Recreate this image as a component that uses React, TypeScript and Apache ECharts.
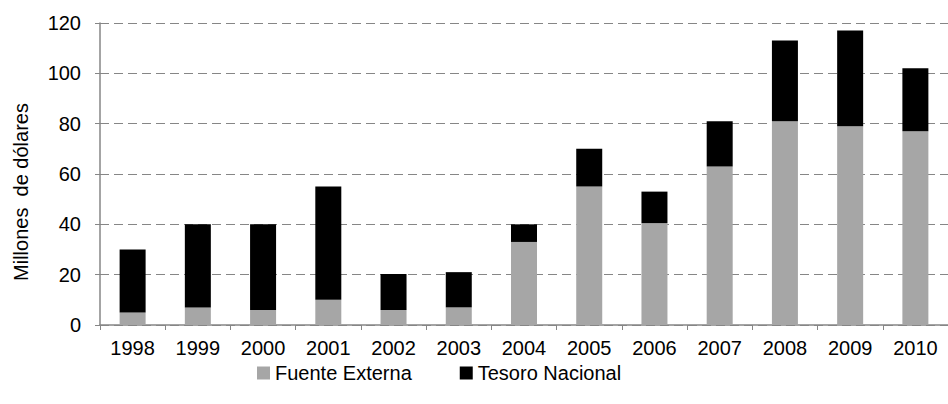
import React, { useEffect, useRef } from "react";
import * as echarts from "echarts";

// Financing by source, 1998–2010 (millions of dollars)
const years = ["1998", "1999", "2000", "2001", "2002", "2003", "2004", "2005", "2006", "2007", "2008", "2009", "2010"];
const fuenteExterna = [5, 7, 6, 10, 6, 7, 33, 55, 40.5, 63, 81, 79, 77];
const tesoroNacional = [25, 33, 34, 45, 14.3, 14, 7, 15, 12.5, 18, 32, 38, 25];
const seriesNames = ["Fuente Externa", "Tesoro Nacional"];
const yTitle = "Millones  de dólares";

const FONT = "'Liberation Sans', Arial, sans-serif";
const AXIS_GREY = "#868686";

export default function App() {
  const ref = useRef<HTMLDivElement>(null);

  useEffect(() => {
    if (!ref.current) return;
    const chart = echarts.init(ref.current, null, { renderer: "svg" });
    chart.setOption({
      animation: false,
      backgroundColor: "#ffffff",
      textStyle: { fontFamily: FONT },
      grid: { left: 100, top: 23, width: 858, height: 302, containLabel: false },
      legend: {
        left: 257,
        top: 363,
        itemWidth: 13,
        itemHeight: 13,
        itemGap: 48,
        icon: "rect",
        padding: 0,
        textStyle: { fontFamily: FONT, fontSize: 20, color: "#000" },
        data: seriesNames,
      },
      graphic: [
        {
          type: "text",
          x: 21,
          y: 192,
          rotation: Math.PI / 2,
          style: {
            text: yTitle,
            fontFamily: FONT,
            fontSize: 20,
            fill: "#000",
            align: "center",
            verticalAlign: "middle",
          },
        },
      ],
      xAxis: {
        type: "category",
        data: years,
        boundaryGap: true,
        axisLine: { lineStyle: { color: AXIS_GREY, width: 1.5 } },
        axisTick: { show: true, length: 5, alignWithLabel: false, lineStyle: { color: AXIS_GREY } },
        axisLabel: { fontSize: 20, color: "#000", margin: 13, fontFamily: FONT },
      },
      yAxis: {
        type: "value",
        min: 0,
        max: 120,
        interval: 20,
        axisLine: { show: true, lineStyle: { color: AXIS_GREY, width: 1.5 } },
        axisTick: { show: true, length: 5, lineStyle: { color: AXIS_GREY } },
        axisLabel: { fontSize: 20, color: "#000", margin: 19, fontFamily: FONT },
        splitLine: { show: true, lineStyle: { color: AXIS_GREY, type: [9, 5], width: 1.2 } },
      },
      series: [
        {
          name: seriesNames[0],
          type: "bar",
          stack: "total",
          data: fuenteExterna,
          barWidth: 26,
          itemStyle: { color: "#A6A6A6" },
        },
        {
          name: seriesNames[1],
          type: "bar",
          stack: "total",
          data: tesoroNacional,
          barWidth: 26,
          itemStyle: { color: "#000000" },
        },
      ],
    });
    return () => chart.dispose();
  }, []);

  return (
    <div
      ref={ref}
      style={{ position: "absolute", left: 0, top: 0, width: 948, height: 404 }}
    />
  );
}
